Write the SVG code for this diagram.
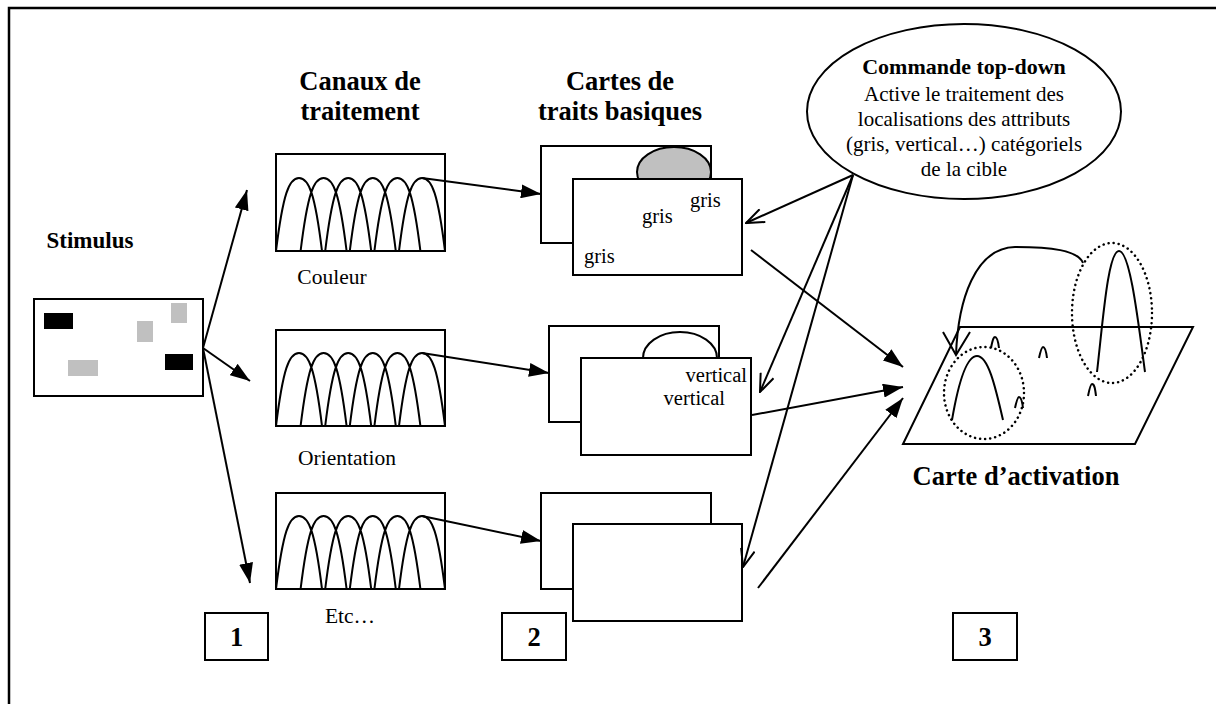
<svg xmlns="http://www.w3.org/2000/svg" width="1216" height="704" viewBox="0 0 1216 704" font-family="'Liberation Serif', 'Times New Roman', serif">
<style>
.ln{fill:none;stroke:#000;stroke-width:2}
.bx{fill:#fff;stroke:#000;stroke-width:2}
.t{font-family:"Liberation Serif","Times New Roman",serif;fill:#000}
.h{font-size:26.5px;font-weight:bold}
.b{font-size:21px}
.s{font-size:21.5px}
.g{font-size:20.5px}
.dot{fill:none;stroke:#000;stroke-width:2.5;stroke-dasharray:0.1 5;stroke-linecap:round}
</style>
<defs>
<marker id="fa" viewBox="0 0 20 14" refX="20" refY="7" markerWidth="20" markerHeight="14" markerUnits="userSpaceOnUse" orient="auto"><path d="M0,0 L20,7 L0,14 Z" fill="#000"/></marker>
<marker id="oa" viewBox="0 0 20 16" refX="19" refY="8" markerWidth="20" markerHeight="16" markerUnits="userSpaceOnUse" orient="auto"><path d="M1,1 L19,8 L1,15" fill="none" stroke="#000" stroke-width="2"/></marker>
<path id="arches" d="M0,97 C7,40 13,24 23,24 C33,24 39,40 46,97 M24.6,97 C31.6,40 37.6,24 47.6,24 C57.6,24 63.6,40 70.6,97 M49.2,97 C56.2,40 62.2,24 72.2,24 C82.2,24 88.2,40 95.2,97 M73.8,97 C80.8,40 86.8,24 96.8,24 C106.8,24 112.8,40 119.8,97 M98.4,97 C105.4,40 111.4,24 121.4,24 C131.4,24 137.4,40 144.4,97 M123,97 C130,40 136,24 146,24 C156,24 162,40 169,97"/>
</defs>
<rect x="0" y="0" width="1216" height="704" fill="#fff"/>
<path d="M9,720 V8 H1230" fill="none" stroke="#000" stroke-width="2.5"/>

<g id="stimulus">
<text class="t h" x="90" y="248" text-anchor="middle" style="font-size:23px">Stimulus</text>
<rect class="bx" x="34" y="299" width="169" height="97"/>
<rect x="44" y="313" width="29" height="16" fill="#000"/>
<rect x="165" y="354" width="28" height="16" fill="#000"/>
<rect x="137" y="321" width="16" height="21" fill="#c0c0c0"/>
<rect x="171" y="303" width="16" height="20" fill="#c0c0c0"/>
<rect x="68" y="360" width="30" height="16" fill="#c0c0c0"/>
</g>

<g id="canaux-title">
<text class="t h" x="360" y="90" text-anchor="middle">Canaux de</text>
<text class="t h" x="360" y="120" text-anchor="middle">traitement</text>
</g>

<g id="canal-couleur">
<rect class="bx" x="276" y="154" width="169" height="97"/>
<use href="#arches" x="276" y="154" class="ln"/>
<text class="t s" x="332" y="284" text-anchor="middle">Couleur</text>
</g>

<g id="canal-orientation">
<rect class="bx" x="276" y="330" width="169" height="96"/>
<use href="#arches" x="276" y="329" class="ln"/>
<text class="t s" x="347" y="465" text-anchor="middle">Orientation</text>
</g>

<g id="canal-etc">
<rect class="bx" x="276" y="493" width="169" height="96"/>
<use href="#arches" x="276" y="492" class="ln"/>
<text class="t s" x="350" y="623" text-anchor="middle">Etc…</text>
</g>

<g id="cartes-title">
<text class="t h" x="620" y="90" text-anchor="middle">Cartes de</text>
<text class="t h" x="620" y="120" text-anchor="middle">traits basiques</text>
</g>

<g id="carte-gris">
<rect class="bx" x="541" y="146" width="170" height="97"/>
<ellipse cx="674" cy="172" rx="37" ry="25" fill="#c0c0c0" stroke="#000" stroke-width="2"/>
<rect class="bx" x="573" y="179" width="169" height="96"/>
<text class="t g" x="690" y="207">gris</text>
<text class="t g" x="642" y="223">gris</text>
<text class="t g" x="584" y="263">gris</text>
</g>

<g id="carte-vertical">
<rect class="bx" x="549" y="326" width="170" height="96"/>
<ellipse cx="680" cy="358" rx="37" ry="26" fill="#fff" stroke="#000" stroke-width="2"/>
<rect class="bx" x="581" y="358" width="170" height="97"/>
<text class="t g" x="747" y="382" text-anchor="end">vertical</text>
<text class="t g" x="725" y="405" text-anchor="end">vertical</text>
</g>

<g id="carte-etc">
<rect class="bx" x="541" y="493" width="170" height="96"/>
<rect class="bx" x="573" y="524" width="169" height="97"/>
</g>

<g id="commande">
<ellipse class="bx" cx="964" cy="111.5" rx="157" ry="87.5"/>
<text class="t" x="964" y="74" text-anchor="middle" font-weight="bold" style="font-size:22px">Commande top-down</text>
<text class="t b" x="964" y="101" text-anchor="middle">Active le traitement des</text>
<text class="t b" x="964" y="126" text-anchor="middle">localisations des attributs</text>
<text class="t b" x="964" y="151" text-anchor="middle">(gris, vertical…) catégoriels</text>
<text class="t b" x="964" y="176" text-anchor="middle">de la cible</text>
</g>

<g id="activation">
<path class="ln" d="M960,327 H1193 L1135,444 H903 Z"/>
<path class="ln" d="M1097,372 C1103,320 1108,251 1119,251 C1130,251 1138,320 1145,372"/>
<path class="ln" d="M952,420 C958,385 966,356 977,356 C988,356 995,385 1003,420"/>
<ellipse class="dot" cx="1112" cy="313" rx="40" ry="70"/>
<ellipse class="dot" cx="984" cy="393" rx="40" ry="46"/>
<path class="ln" d="M991,348 C993,338 994,337 995,337 C997,337 998,340 999,348"/>
<path class="ln" d="M1039,358 C1041,349 1042,347 1043,347 C1045,347 1046,350 1047,358"/>
<path class="ln" d="M1088,396 C1090,386 1091,384 1092,384 C1094,384 1095,387 1096,396"/>
<path class="ln" d="M1015,408 C1017,399 1018,397 1019,397 C1021,397 1022,400 1023,408"/>
<path class="ln" d="M1083,263 C1078,250 1050,247 1015,247 C975,248 958,300 956,355"/>
<path class="ln" d="M943,332 L956,355 L970,332"/>
<text class="t h" x="1016" y="485" text-anchor="middle">Carte d’activation</text>
</g>

<g id="etape-1"><rect class="bx" x="205" y="613" width="63" height="47"/><text class="t h" x="236.5" y="646" text-anchor="middle">1</text></g>
<g id="etape-2"><rect class="bx" x="502" y="613" width="64" height="47"/><text class="t h" x="534" y="646" text-anchor="middle">2</text></g>
<g id="etape-3"><rect class="bx" x="953" y="613" width="64" height="47"/><text class="t h" x="985" y="646" text-anchor="middle">3</text></g>

<g id="connectors" class="ln">
<line x1="203" y1="348" x2="247" y2="190" marker-end="url(#fa)"/>
<line x1="203" y1="348" x2="250" y2="381" marker-end="url(#fa)"/>
<line x1="203" y1="348" x2="250" y2="583" marker-end="url(#fa)"/>
<line x1="422" y1="178" x2="541" y2="194" marker-end="url(#fa)"/>
<line x1="422" y1="353" x2="549" y2="373" marker-end="url(#fa)"/>
<line x1="422" y1="516" x2="541" y2="541" marker-end="url(#fa)"/>
<line x1="853" y1="175" x2="746" y2="223" marker-end="url(#oa)"/>
<line x1="853" y1="175" x2="760" y2="392" marker-end="url(#oa)"/>
<line x1="853" y1="175" x2="743" y2="567" marker-end="url(#oa)"/>
<line x1="751" y1="250" x2="903" y2="367" marker-end="url(#fa)"/>
<line x1="752" y1="415" x2="903" y2="387" marker-end="url(#fa)"/>
<line x1="758" y1="588" x2="903" y2="398" marker-end="url(#fa)"/>
</g>
</svg>
